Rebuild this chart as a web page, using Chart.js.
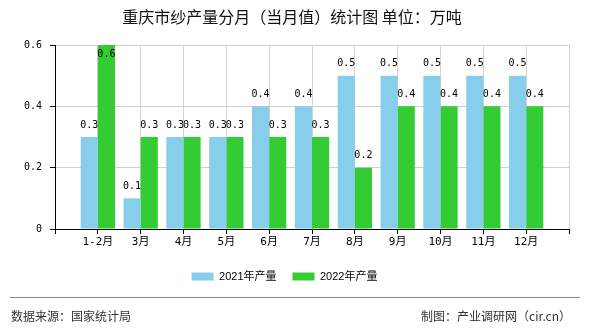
<!DOCTYPE html>
<html>
<head>
<meta charset="utf-8">
<script src="https://cdn.jsdelivr.net/npm/chart.js@4"></script>
<style>
  html, body { margin: 0; padding: 0; background: #fff; }
  #wrap { width: 590px; height: 330px; position: relative; }
</style>
</head>
<body>
<div id="wrap"><canvas id="chart" width="590" height="330"></canvas></div>
<script>
const months = ['1-2月', '3月', '4月', '5月', '6月', '7月', '8月', '9月', '10月', '11月', '12月'];
const output2021 = [0.3, 0.1, 0.3, 0.3, 0.4, 0.4, 0.5, 0.5, 0.5, 0.5, 0.5];
const output2022 = [0.6, 0.3, 0.3, 0.3, 0.3, 0.3, 0.2, 0.4, 0.4, 0.4, 0.4];
const yTicks = [0, 0.2, 0.4, 0.6];

const cjk = '"Noto Sans CJK SC", "Noto Sans", sans-serif';
const mono = '"DejaVu Sans Mono", "Liberation Mono", monospace';

// month index as x, so the axis can run one slot past each end
const toPoints = arr => arr.map((v, i) => ({ x: i, y: v }));

// title, value labels and footer
const extras = {
  id: 'extras',
  afterDraw(chart) {
    const ctx = chart.ctx;
    const area = chart.chartArea;
    ctx.save();

    ctx.fillStyle = '#111';
    ctx.font = '16px ' + cjk;
    ctx.textAlign = 'center';
    ctx.textBaseline = 'middle';
    ctx.fillText('重庆市纱产量分月（当月值）统计图 单位：万吨', 292, 17);

    // value labels
    ctx.font = '10px ' + mono;
    ctx.fillStyle = '#000';
    chart.data.datasets.forEach((ds, di) => {
      chart.getDatasetMeta(di).data.forEach((bar, i) => {
        let ty = bar.y - 12;
        if (ty - 6 < area.top) ty = bar.y + 9;
        ctx.fillText(String(ds.data[i].y), bar.x, ty);
      });
    });

    // footer
    ctx.strokeStyle = '#888';
    ctx.lineWidth = 1;
    ctx.beginPath();
    ctx.moveTo(10, 297.5);
    ctx.lineTo(580, 297.5);
    ctx.stroke();
    ctx.fillStyle = '#333';
    ctx.font = '12px ' + cjk;
    ctx.textAlign = 'left';
    ctx.fillText('数据来源：国家统计局', 11, 316);
    ctx.textAlign = 'right';
    ctx.fillText('制图：产业调研网（cir.cn）', 571, 316);
    ctx.restore();
  }
};

new Chart(document.getElementById('chart'), {
  type: 'bar',
  data: {
    datasets: [
      { label: '2021年产量', data: toPoints(output2021), backgroundColor: '#87CEEB' },
      { label: '2022年产量', data: toPoints(output2022), backgroundColor: '#33CC33' }
    ]
  },
  options: {
    responsive: false,
    animation: false,
    layout: { padding: { left: 0, right: 21, top: 45, bottom: 38 } },
    datasets: { bar: { barPercentage: 1, categoryPercentage: 0.8 } },
    plugins: {
      tooltip: { enabled: false },
      legend: {
        position: 'bottom',
        labels: {
          boxWidth: 22,
          boxHeight: 8,
          padding: 16,
          color: '#000',
          font: { family: 'Arial, "Liberation Sans", ' + cjk, size: 11 }
        }
      }
    },
    scales: {
      x: {
        type: 'linear',
        min: -1,
        max: 11,
        offset: false,
        afterFit: s => { s.height = 26; },
        afterBuildTicks: s => {
          s.ticks = [];
          for (let i = -1; i <= 11; i++) s.ticks.push({ value: i });
        },
        grid: { offset: false, color: '#d4d4d4', tickColor: '#000', tickLength: 5 },
        border: { color: '#000' },
        ticks: {
          color: '#000',
          padding: 2,
          maxRotation: 0,
          autoSkip: false,
          font: { family: mono + ', ' + cjk, size: 11 },
          callback: v => months[v] || ''
        }
      },
      y: {
        min: 0,
        max: 0.6,
        afterFit: s => { s.width = 55; },
        afterBuildTicks: s => { s.ticks = yTicks.map(v => ({ value: v })); },
        grid: { color: '#d0d0d0', tickColor: '#000', tickLength: 5 },
        border: { color: '#000' },
        ticks: {
          color: '#000',
          padding: 8,
          font: { family: mono, size: 10 },
          callback: v => String(v)
        }
      }
    }
  },
  plugins: [extras]
});
</script>
</body>
</html>
